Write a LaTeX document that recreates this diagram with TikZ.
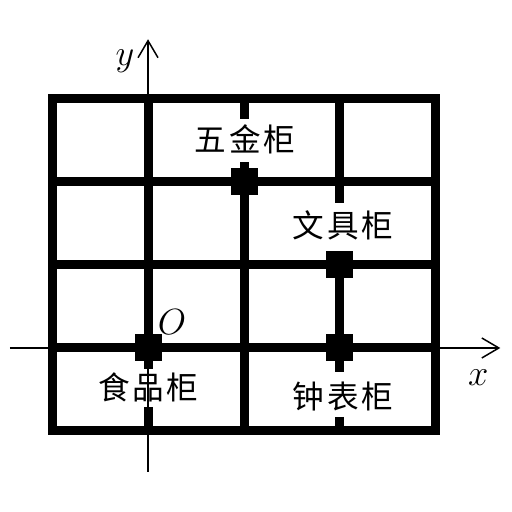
\documentclass[tikz,border=0pt]{standalone}
\usepackage{fontspec}
\newfontfamily\cjk[LetterSpace=8]{Noto Sans CJK SC}
\usetikzlibrary{arrows.meta}

\begin{document}
\begin{tikzpicture}[x=1.92cm,y=1.66cm,
  wall/.style={line width=0.18cm},
  axis/.style={line width=0.85pt,-{Straight Barb[length=3.4mm,width=4mm]}},
  door/.style={fill=black,inner sep=0pt,minimum size=0.54cm},
  shelf/.style={font=\cjk\fontsize{18}{20}\selectfont},
  axislabel/.style={font=\fontsize{20}{24}\selectfont}]
  \useasboundingbox (-1.542,-1.976) rectangle (3.792,4.193);
  % axes
  \coordinate (xs) at (-1.44,0);
  \coordinate (xe) at (3.67,0);
  \coordinate (ys) at (0,-1.49);
  \coordinate (ye) at (0,3.72);
  \draw[axis] (xs) -- (xe);
  \draw[axis] (ys) -- (ye);
  % walls of the shop
  \draw[wall] (-1,-1) rectangle (3,3);
  \foreach \y in {0,1,2}
    \draw[wall] (-1,\y) -- (3,\y);
  \draw[wall] (0,3) -- (0,-0.25) (0,-0.71) -- (0,-1);
  \draw[wall] (1,3) -- (1,2.76) (1,2.24) -- (1,-1);
  \draw[wall] (2,3) -- (2,1.75) (2,1) -- (2,-0.29) (2,-0.83) -- (2,-1);
  % doors
  \node[door] (wujin door) at (1,2) {};
  \node[door] (wenju door) at (2,1) {};
  \node[door] (zhongbiao door) at (2,0) {};
  \node[door] (shipin door) at (0,0) {};
  % counters
  \node[shelf] (wujin) at (1.01,2.51) {五金柜};
  \node[shelf] (wenju) at (2.03,1.48) {文具柜};
  \node[shelf] (shipin) at (0,-0.48) {食品柜};
  \node[shelf] (zhongbiao) at (2.03,-0.59) {钟表柜};
  \node[axislabel] (ylab) at (-0.24,3.45) {$y$};
  \node[axislabel] (xlab) at (3.44,-0.36) {$x$};
  \node[axislabel] (olab) at (0.25,0.31) {$O$};
\end{tikzpicture}
\end{document}
